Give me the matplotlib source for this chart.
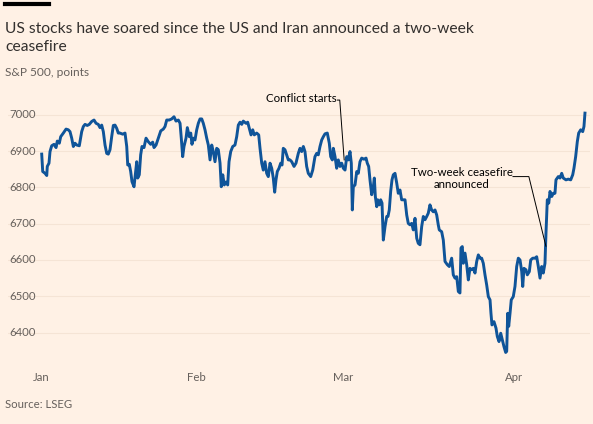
import matplotlib
matplotlib.use("Agg")
import matplotlib.pyplot as plt

# S&P 500, points -- x is trading sessions since 2 Jan (fractional = intraday)
sessions = [
    0.09, 0.22, 0.52, 0.74, 0.81, 1.03, 1.16, 1.38, 1.68, 1.94, 2.10, 2.36, 2.54, 2.88,
    3.23, 3.52, 3.74, 3.96, 4.17, 4.39, 4.61, 4.94, 5.25, 5.46, 5.68, 5.97, 6.23, 6.54,
    6.84, 7.10, 7.39, 7.61, 7.83, 8.04, 8.26, 8.48, 8.68, 8.90, 9.12, 9.33, 9.55, 9.77,
    9.97, 10.19, 10.54, 10.84, 11.06, 11.19, 11.39, 11.57, 11.74, 12.00, 12.17, 12.35,
    12.48, 12.68, 12.86, 13.03, 13.29, 13.55, 13.85, 14.15, 14.41, 14.58, 14.84, 15.14,
    15.45, 15.78, 16.00, 16.22, 16.55, 16.86, 17.16, 17.42, 17.72, 17.94, 18.10, 18.28,
    18.45, 18.71, 18.88, 19.14, 19.32, 19.48, 19.65, 19.87, 20.09, 20.30, 20.52, 20.74,
    20.94, 21.16, 21.38, 21.59, 21.81, 22.03, 22.23, 22.45, 22.67, 22.88, 23.10, 23.26,
    23.45, 23.65, 23.87, 24.09, 24.26, 24.48, 24.74, 25.03, 25.25, 25.46, 25.68, 25.90,
    26.10, 26.45, 26.67, 26.88, 27.10, 27.32, 27.52, 27.83, 28.09, 28.26, 28.48, 28.68,
    28.90, 29.12, 29.33, 29.55, 29.77, 29.97, 30.15, 30.32, 30.49, 30.71, 30.93, 31.10,
    31.26, 31.48, 31.70, 31.91, 32.13, 32.35, 32.65, 32.90, 33.20, 33.42, 33.64, 33.85,
    34.06, 34.28, 34.49, 34.80, 35.06, 35.35, 35.57, 35.78, 36.00, 36.22, 36.43, 36.65,
    36.94, 37.20, 37.38, 37.59, 37.72, 37.94, 38.15, 38.36, 38.58, 38.80, 39.01, 39.23,
    39.45, 39.65, 39.87, 40.04, 40.17, 40.30, 40.52, 40.74, 40.94, 41.16, 41.38, 41.68,
    41.94, 42.10, 42.28, 42.45, 42.67, 42.88, 43.01, 43.14, 43.32, 43.45, 43.65, 43.83,
    44.00, 44.17, 44.39, 44.61, 44.77, 44.94, 45.12, 45.29, 45.46, 45.68, 45.90, 46.10,
    46.32, 46.54, 46.75, 46.97, 47.19, 47.39, 47.61, 47.83, 48.04, 48.26, 48.48, 48.68,
    48.90, 49.12, 49.33, 49.55, 49.77, 49.97, 50.19, 50.41, 50.62, 50.84, 51.06, 51.26,
    51.39, 51.70, 51.91, 52.13, 52.43, 52.68, 52.99, 53.20, 53.42, 53.64, 53.85, 54.06,
    54.19, 54.36, 54.49, 54.71, 54.93, 55.14, 55.35, 55.57, 55.78, 56.00, 56.22, 56.43,
    56.65, 56.86, 57.07, 57.29, 57.51, 57.72, 57.94, 58.06, 58.19, 58.45, 58.71, 58.88,
    59.10, 59.32, 59.52, 59.74, 59.96, 60.09, 60.22, 60.35, 60.52, 60.68, 60.94, 61.16,
    61.38, 61.59, 61.81, 62.03, 62.16, 62.32, 62.58, 62.75, 63.01, 63.19, 63.45, 63.74,
    63.96, 64.17, 64.39, 64.61, 64.81, 65.03, 65.16, 65.33, 65.52, 65.68, 65.90, 66.10,
    66.32, 66.45, 66.75, 66.97, 67.19, 67.39, 67.74, 68.04, 68.35, 68.61, 68.77, 68.99,
    69.20, 69.38, 69.64, 69.90, 70.06, 70.19,
]
spx = [
    6892, 6844, 6839, 6833, 6858, 6867, 6899, 6915, 6919, 6910, 6928, 6922, 6940, 6950,
    6961, 6959, 6954, 6936, 6913, 6922, 6917, 6915, 6954, 6968, 6974, 6971, 6974, 6982,
    6986, 6977, 6974, 6965, 6972, 6954, 6917, 6894, 6892, 6904, 6940, 6971, 6972, 6963,
    6950, 6950, 6947, 6950, 6913, 6862, 6864, 6844, 6816, 6802, 6835, 6871,
    6826, 6835, 6890, 6913, 6910, 6936, 6926, 6919, 6925, 6910, 6917, 6936,
    6956, 6961, 6968, 6986, 6986, 6989, 6995, 6983, 6986, 6977, 6936, 6885,
    6913, 6936, 6965, 6940, 6950, 6919, 6936, 6931, 6959, 6977, 6989, 6989,
    6977, 6959, 6936, 6917, 6876, 6917, 6899, 6871, 6908, 6904, 6867, 6802,
    6835, 6807, 6815, 6807, 6871, 6899, 6913, 6917, 6940, 6972, 6980, 6974,
    6983, 6977, 6980, 6963, 6945, 6959, 6945, 6950, 6945, 6908, 6867, 6848,
    6871, 6839, 6830, 6867, 6853, 6826, 6787, 6821, 6844, 6853, 6867, 6862,
    6908, 6904, 6890, 6876, 6876, 6871, 6858, 6867, 6894, 6908, 6899, 6913,
    6899, 6858, 6839, 6830, 6848, 6885, 6894, 6890, 6913, 6931, 6940, 6948,
    6950, 6922, 6885, 6876, 6908, 6885, 6853, 6876, 6858, 6867, 6853, 6848,
    6885, 6876, 6899, 6867, 6738, 6802, 6807, 6844, 6839, 6871, 6881, 6878,
    6881, 6867, 6858, 6821, 6780, 6802, 6826, 6775, 6747, 6766, 6752, 6766,
    6757, 6655, 6692, 6720, 6720, 6738, 6789, 6821, 6835, 6839, 6812, 6784,
    6793, 6766, 6766, 6766, 6724, 6701, 6697, 6701, 6683, 6715, 6660, 6646,
    6642, 6692, 6720, 6711, 6720, 6729, 6752, 6738, 6733, 6738, 6724, 6697,
    6683, 6678, 6655, 6596, 6587, 6582, 6605, 6559, 6550, 6554, 6513, 6509,
    6633, 6637, 6591, 6619, 6587, 6545, 6577, 6573, 6577, 6564, 6596, 6614,
    6605, 6605, 6591, 6559, 6531, 6499, 6490, 6453, 6421, 6430, 6412, 6389,
    6375, 6398, 6380, 6361, 6345, 6348, 6453, 6417, 6453, 6490, 6499, 6527,
    6582, 6605, 6600, 6568, 6527, 6577, 6573, 6559, 6568, 6600, 6605, 6605,
    6609, 6582, 6550, 6582, 6564, 6591, 6674, 6766, 6757, 6789, 6775, 6784,
    6784, 6821, 6830, 6826, 6839, 6826, 6821, 6823, 6821, 6835, 6853, 6885,
    6926, 6950, 6959, 6954, 6968, 7005,
]

month_sessions = [0, 20, 39, 61]
month_labels = ["Jan", "Feb", "Mar", "Apr"]
y_ticks = [6400, 6500, 6600, 6700, 6800, 6900, 7000]

bg = "#FFF1E5"
line_col = "#0F5499"
grey = "#66605C"
font = ["Lato", "DejaVu Sans"]
plt.rcParams["font.family"] = font

fig = plt.figure(figsize=(5.93, 4.24), dpi=100, facecolor=bg)
ax = fig.add_axes([8 / 593, 1 - 355 / 424, 582 / 593, 260 / 424], facecolor=bg)

ax.plot(sessions, spx, color=line_col, lw=2.1, solid_joinstyle="round", zorder=3)

ax.set_xlim(-4.26, 70.84)
ax.set_ylim(6338, 7055)
ax.set_yticks(y_ticks)
ax.set_yticklabels([])
ax.tick_params(axis="y", length=0)
ax.grid(axis="y", color="#F5E4D5", lw=0.8, zorder=0)
for v in y_ticks:
    ax.text(0.003, v, str(v), transform=ax.get_yaxis_transform(), ha="left",
            va="center", fontsize=8.2, color=grey)

ax.set_xticks(month_sessions)
ax.set_xticklabels(month_labels, fontsize=8.2, color=grey)
ax.tick_params(axis="x", length=0, pad=12)
for s in ax.spines.values():
    s.set_visible(False)

# annotations
ax.text(38.2, 7044, "Conflict starts", ha="right", va="center", fontsize=8.3, color="#000000")
ax.plot([38.25, 38.55, 39.12], [7041, 7041, 6876], color="#000000", lw=0.7, zorder=4)
ax.text(54.3, 6824, "Two-week ceasefire\nannounced", ha="center", va="center",
        fontsize=8.3, color="#000000", linespacing=1.1)
ax.plot([60.9, 62.95, 65.15], [6830, 6830, 6638], color="#000000", lw=0.7, zorder=4)

# header and footer
fig.add_artist(plt.Line2D([5 / 593, 49 / 593], [1 - 3.5 / 424, 1 - 3.5 / 424],
                          color="#000000", lw=3))
fig.text(5 / 593, 1 - 38 / 424, "US stocks have soared since the US and Iran announced a two-week\nceasefire",
         ha="left", va="center", fontsize=11.25, color="#33302E", linespacing=1.3)
fig.text(5 / 593, 1 - 73 / 424, "S&P 500, points", ha="left", va="center", fontsize=8.6, color=grey)
fig.text(5 / 593, 1 - 405 / 424, "Source: LSEG", ha="left", va="center", fontsize=8.2, color=grey)

fig.savefig("out.png", dpi=100, facecolor=bg)
